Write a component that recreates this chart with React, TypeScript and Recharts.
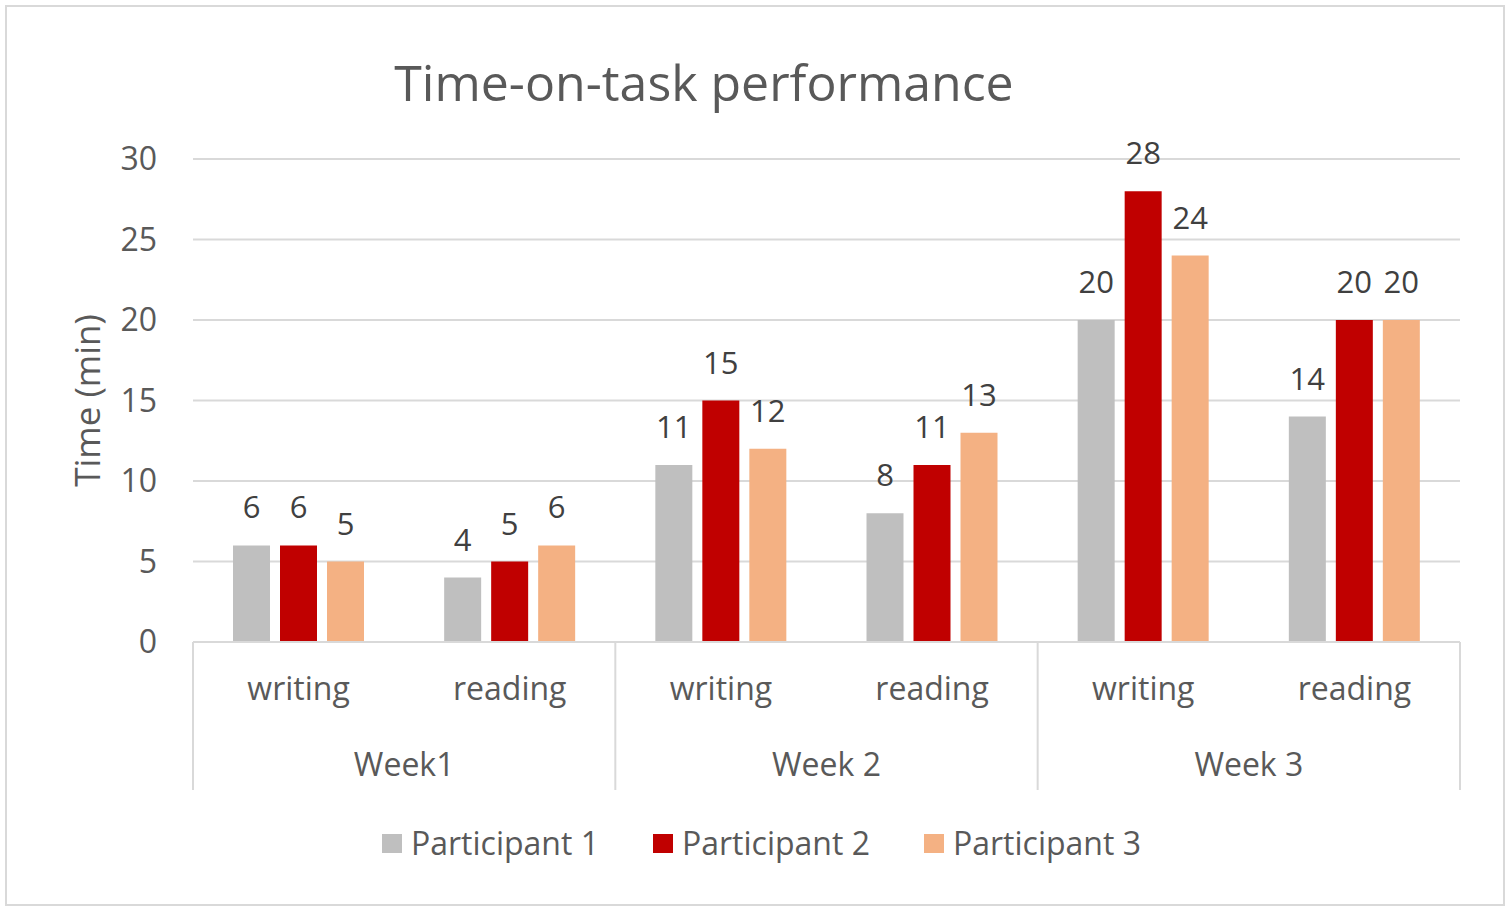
import { BarChart, Bar, XAxis, YAxis, CartesianGrid, LabelList, Legend } from 'recharts';

const tasks = ['writing', 'reading', 'writing', 'reading', 'writing', 'reading'];
const weeks = ['Week1', 'Week1', 'Week 2', 'Week 2', 'Week 3', 'Week 3'];
const participant1 = [6, 4, 11, 8, 20, 14];
const participant2 = [6, 5, 15, 11, 28, 20];
const participant3 = [5, 6, 12, 13, 24, 20];
const seriesNames = ['Participant 1', 'Participant 2', 'Participant 3'];
const yTicks = [0, 5, 10, 15, 20, 25, 30];

const COLORS = ['#bfbfbf', '#c00000', '#f4b183'];
const KEYS = ['p1', 'p2', 'p3'];
const FONT = '"Open Sans", sans-serif';
const TEXT = '#595959';
const LINE = '#d9d9d9';

const data = tasks.map((task, i) => ({
  id: `${weeks[i]}-${task}`,
  p1: participant1[i],
  p2: participant2[i],
  p3: participant3[i],
}));

// two-level category axis: task name, then week name + separators every 2 bands
function CategoryTick(props: any) {
  const { x, y, index, payload } = props;
  const half = payload && payload.offset ? payload.offset : 105.6;
  const first = index % 2 === 0;
  const last = index === tasks.length - 1;
  return (
    <g>
      <text x={x} y={y + 58} textAnchor="middle" fill={TEXT} fontSize={32} fontFamily={FONT}>
        {tasks[index]}
      </text>
      {first && (
        <text x={x + half} y={y + 134} textAnchor="middle" fill={TEXT} fontSize={32} fontFamily={FONT}>
          {weeks[index]}
        </text>
      )}
      {first && <line x1={x - half} x2={x - half} y1={y} y2={y + 148} stroke={LINE} strokeWidth={2} />}
      {last && <line x1={x + half} x2={x + half} y1={y} y2={y + 148} stroke={LINE} strokeWidth={2} />}
    </g>
  );
}

function YTitle(props: any) {
  const vb = props.viewBox || { x: 53, y: 159, width: 140, height: 483 };
  const cx = vb.x + 33;
  const cy = vb.y + vb.height / 2;
  return (
    <text
      x={cx}
      y={cy}
      transform={`rotate(-90, ${cx}, ${cy})`}
      textAnchor="middle"
      dominantBaseline="central"
      fill={TEXT}
      fontSize={35}
      fontFamily={FONT}
    >
      Time (min)
    </text>
  );
}

function LegendBox() {
  return (
    <div style={{ display: 'flex', alignItems: 'center', marginLeft: 382, fontFamily: FONT }}>
      {seriesNames.map((name, i) => (
        <div key={name} style={{ display: 'flex', alignItems: 'center', marginRight: 54 }}>
          <span style={{ width: 20, height: 19, background: COLORS[i], display: 'inline-block', marginRight: 9 }} />
          <span style={{ fontSize: 32, color: TEXT, lineHeight: '40px' }}>{name}</span>
        </div>
      ))}
    </div>
  );
}

export default function App() {
  return (
    <div style={{ position: 'relative', width: 1512, height: 912, background: '#fff', fontFamily: FONT }}>
      <style>{'body{margin:0;}'}</style>
      <div
        style={{
          position: 'absolute',
          left: 5,
          top: 5,
          width: 1496,
          height: 897,
          border: `2px solid ${LINE}`,
          pointerEvents: 'none',
        }}
      />
      <div
        style={{
          position: 'absolute',
          left: 0,
          top: 57,
          width: 1408,
          textAlign: 'center',
          fontSize: 50,
          lineHeight: 1,
          color: TEXT,
        }}
      >
        Time-on-task performance
      </div>
      <div style={{ position: 'absolute', left: 0, top: 0 }}>
        <BarChart
          width={1512}
          height={912}
          data={data}
          margin={{ top: 159, right: 52, bottom: 120, left: 53 }}
          barSize={37}
          barGap={10}
          style={{ fontFamily: FONT }}
        >
          <CartesianGrid vertical={false} stroke={LINE} strokeWidth={2} />
          <XAxis
            dataKey="id"
            height={150}
            interval={0}
            tickLine={false}
            tickSize={0}
            tickMargin={0}
            axisLine={{ stroke: LINE, strokeWidth: 2 }}
            tick={<CategoryTick />}
          />
          <YAxis
            width={140}
            domain={[0, 30]}
            ticks={yTicks}
            axisLine={false}
            tickLine={false}
            tickSize={0}
            tickMargin={36}
            tick={{ fill: TEXT, fontSize: 32, fontFamily: FONT }}
            label={<YTitle />}
          />
          <Legend
            layout="horizontal"
            verticalAlign="middle"
            align="center"
            content={<LegendBox />}
            wrapperStyle={{ top: 823, left: 0, width: 1512 }}
          />
          {KEYS.map((k, i) => (
            <Bar key={k} dataKey={k} name={seriesNames[i]} fill={COLORS[i]} isAnimationActive={false}>
              <LabelList dataKey={k} position="top" offset={27} fill="#404040" fontSize={31} fontFamily={FONT} />
            </Bar>
          ))}
        </BarChart>
      </div>
    </div>
  );
}
